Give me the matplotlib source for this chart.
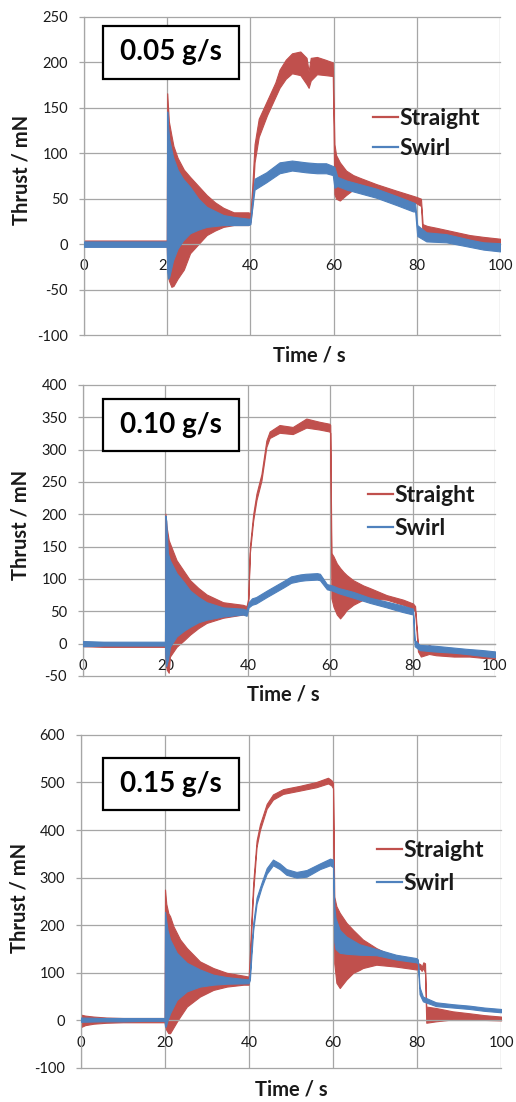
import matplotlib
matplotlib.use("Agg")
import matplotlib.pyplot as plt
from matplotlib.lines import Line2D
from matplotlib.patches import Rectangle

plt.rcParams["font.family"] = ["Lato", "DejaVu Sans"]
plt.rcParams["axes.unicode_minus"] = False

RED = "#C0504D"
BLUE = "#4F81BD"
GRID = "#A6A6A6"
TXT = "#1a1a1a"

# ---- 0.05 g/s : envelope (low / high) of each noisy trace
t_str_05 = [0, 5, 10, 15, 19.9, 20.0, 20.4, 21.0, 21.5, 22.5, 24, 25.5, 27.5, 29.5, 31.5, 33.5, 36, 39.5,
            40.0, 40.4, 41.0, 42, 44, 46, 47, 48.5, 50, 52, 53.5, 54, 54.5, 56, 58, 59.8, 60.2, 60.6, 61.5,
            63, 64.7, 66.3, 70.3, 75, 79.9, 81.0, 81.4, 82.5, 84.7, 88.7, 92.7, 96, 100]
hi_str_05 = [4, 4, 4, 4, 4, 166, 135, 120, 108, 95, 82, 74, 64, 54, 46, 40, 35, 35,
             34, 60, 110, 138, 158, 178, 192, 203, 210, 212, 205, 190, 205, 206, 203, 200, 110, 98, 90,
             81, 76, 73, 66, 59, 52, 50, 22, 20, 18, 14, 10, 8, 6]
lo_str_05 = [-2, -2, -2, -2, -2, -25, -40, -47, -46, -38, -28, -10, 0, 10, 15, 19, 21, 21,
             24, 40, 90, 118, 142, 162, 172, 182, 188, 186, 176, 172, 180, 187, 186, 185, 55, 50, 48,
             54, 60, 63, 58, 51, 45, 42, 10, 8, 6, 3, 0, -1, -2]

t_swl_05 = [0, 5, 10, 15, 19.9, 20.0, 20.2, 20.5, 21.4, 22.5, 23.8, 25.5, 27.5, 29.5, 33.5, 36, 39.5,
            40.0, 40.4, 41.0, 43.8, 47, 50, 53.4, 56, 58.2, 59.8, 60.2, 60.9, 63.1, 66.3, 70.3, 75.1,
            79.1, 79.6, 80.1, 82.3, 87.1, 92.7, 96, 100]
hi_swl_05 = [3, 3, 3, 3, 3, 146, 130, 115, 96, 82, 72, 63, 50, 41, 32, 30, 28,
             28, 45, 72, 79, 90, 92, 90, 89, 89, 86, 85, 74, 70, 66, 61, 53,
             46, 45, 21, 13, 11, 5, 2, 1]
lo_swl_05 = [-3, -3, -3, -3, -3, -30, -38, -36, -18, -5, 4, 12, 16, 19, 21, 21, 21,
             22, 38, 60, 68, 78, 81, 79, 78, 78, 76, 62, 64, 60, 56, 51, 43,
             36, 36, 9, 3, 2, -3, -6, -8]

# ---- 0.10 g/s
t_str_10 = [0, 5, 10, 15, 19.9, 20.0, 20.3, 20.8, 21.1, 22.7, 24.5, 26, 28, 30, 34, 38.8, 39.7, 40.1,
            40.5, 41.3, 42.1, 43.3, 44.5, 45.3, 47.7, 50.9, 54.2, 57.4, 59.8, 60.0, 60.3, 60.8, 61.6,
            62.4, 63.2, 64, 65.6, 68, 69.6, 73.7, 77.7, 80.1, 80.6, 81.3, 82, 84, 85.7, 90, 93.8, 97, 100]
hi_str_10 = [3, 2, 1, 1, 1, 201, 180, 160, 155, 129, 112, 98, 86, 76, 64, 60, 58, 70,
             150, 200, 232, 262, 314, 328, 338, 335, 348, 343, 340, 338, 140, 135, 124,
             117, 111, 106, 98, 90, 86, 75, 68, 62, 58, 0, -10, -2, -8, -12, -12, -14, -16]
lo_str_10 = [-4, -5, -5, -5, -5, -20, -40, -45, -20, -5, 5, 14, 24, 32, 40, 45, 45, 62,
             140, 190, 222, 252, 304, 318, 326, 324, 334, 331, 328, 326, 70, 57, 45,
             39, 45, 52, 60, 68, 70, 68, 60, 54, 50, -12, -20, -16, -18, -20, -20, -22, -23]

t_swl_10 = [0, 5, 10, 15, 19.9, 20.0, 20.2, 20.6, 21.1, 22.7, 24.5, 26, 28, 30, 34, 38.8, 39.7, 40.2,
            41, 42, 44.6, 48.7, 50.5, 52.7, 54, 56.8, 57.5, 59.2, 60.5, 62, 65.6, 69.6, 73.7, 77.5,
            80.1, 80.5, 81.7, 85, 89.8, 93, 97, 100]
hi_swl_10 = [4, 3, 3, 3, 3, 198, 190, 140, 129, 109, 95, 82, 72, 64, 56, 54, 52, 64,
             70, 72, 82, 97, 104, 107, 108, 109, 108, 92, 90, 86, 80, 71, 65, 59,
             54, 6, -2, -3, -6, -8, -10, -12]
lo_swl_10 = [-4, -3, -3, -3, -3, -20, -35, -25, -5, 11, 20, 26, 33, 37, 42, 45, 43, 56,
             60, 62, 72, 87, 94, 97, 98, 99, 98, 84, 82, 78, 71, 63, 56, 49,
             45, -4, -10, -12, -14, -16, -19, -21]

# ---- 0.15 g/s
t_str_15 = [0, 1, 3, 6, 10, 15, 19.9, 20.0, 20.3, 20.8, 21.2, 22, 22.8, 23.6, 25.2, 28.3, 31.5, 34.7,
            38.7, 39.9, 40.2, 40.6, 41, 41.8, 42.6, 44.2, 45.7, 48.1, 52.1, 56, 58.8, 59.6, 60.0, 60.3,
            60.8, 61.6, 63.2, 64.8, 66.3, 67.1, 70.3, 75, 79.8, 80.8, 81.1, 81.5, 81.9, 82.2, 84.5,
            88.5, 92.4, 96, 100]
hi_str_15 = [12, 10, 8, 6, 5, 5, 5, 275, 245, 225, 219, 198, 184, 170, 152, 124, 110, 100,
             94, 92, 140, 220, 290, 378, 412, 455, 475, 486, 493, 501, 510, 505, 500, 260,
             240, 226, 205, 190, 177, 170, 152, 132, 122, 118, 112, 122, 120, 29, 26,
             19, 15, 11, 8]
lo_str_15 = [-14, -10, -7, -5, -4, -4, -4, -10, -20, -27, -27, -15, -3, 8, 29, 50, 64, 71,
             75, 75, 100, 200, 270, 365, 400, 445, 464, 476, 483, 490, 498, 494, 488, 120,
             79, 68, 86, 100, 106, 110, 117, 113, 107, 108, 104, 110, 100, -5, -2,
             2, 2, 1, 0]

t_swl_15 = [0, 5, 10, 15, 19.9, 20.0, 20.2, 20.6, 21.2, 22.8, 25.2, 28.3, 31.5, 34.7, 39.9, 40.2,
            40.6, 41, 41.8, 43, 44.2, 45.7, 47.3, 48.9, 51.3, 53.7, 56.9, 59.3, 60.0, 60.3, 60.6,
            61.6, 63.2, 66.3, 70.3, 75, 79.8, 80.2, 80.6, 81.4, 84.5, 88.5, 92.4, 96, 100]
hi_swl_15 = [6, 5, 5, 5, 5, 228, 215, 190, 170, 142, 121, 107, 96, 91, 86, 100,
             160, 205, 258, 290, 320, 338, 330, 318, 312, 316, 330, 340, 338, 240, 215,
             190, 176, 160, 150, 138, 131, 128, 70, 50, 38, 34, 31, 27, 24]
lo_swl_15 = [-3, -2, -2, -1, -1, -13, -13, 0, 15, 43, 61, 71, 75, 77, 78, 85,
             140, 190, 245, 280, 308, 326, 318, 306, 300, 302, 318, 326, 322, 165, 150,
             142, 140, 138, 137, 128, 122, 120, 55, 40, 30, 27, 24, 20, 17]

titles = ["0.05 g/s", "0.10 g/s", "0.15 g/s"]
y_ticks = [list(range(-100, 251, 50)), list(range(-50, 401, 50)), list(range(-100, 601, 100))]
x_ticks = [0, 20, 40, 60, 80, 100]

# layout (figure fractions / axes fractions) per panel
ax_rects = [(0.1628, 0.6960, 0.8062, 0.2886),
            (0.1609, 0.3866, 0.7984, 0.2641),
            (0.1570, 0.0309, 0.8140, 0.3022)]
box_rects = [(0.0457, 0.805, 0.327, 0.167),
             (0.0485, 0.773, 0.330, 0.179),
             (0.0524, 0.775, 0.324, 0.156)]
legend_anchor = [(0.695, 0.634), (0.692, 0.564), (0.705, 0.604)]
legend_spacing = [0.38, 0.52, 0.52]
xlabel_pos = [(0.541, -0.063), (0.485, -0.065), (0.50, -0.066)]
ylabel_pos = [(-0.150, 0.519), (-0.152, 0.519), (-0.146, 0.51)]

series = [
    [(t_str_05, lo_str_05, hi_str_05), (t_swl_05, lo_swl_05, hi_swl_05)],
    [(t_str_10, lo_str_10, hi_str_10), (t_swl_10, lo_swl_10, hi_swl_10)],
    [(t_str_15, lo_str_15, hi_str_15), (t_swl_15, lo_swl_15, hi_swl_15)],
]

fig = plt.figure(figsize=(5.16, 11.02), dpi=100)

for i in range(3):
    ax = fig.add_axes(ax_rects[i])
    (ts, ls, hs), (tb, lb, hb) = series[i]
    ax.fill_between(ts, ls, hs, color=RED, edgecolor=RED, lw=0.8, zorder=2)
    ax.fill_between(tb, lb, hb, color=BLUE, edgecolor=BLUE, lw=0.8, zorder=3)

    ax.set_xlim(0, 100)
    ax.set_ylim(y_ticks[i][0], y_ticks[i][-1])
    ax.set_xticks(x_ticks)
    ax.set_yticks(y_ticks[i])
    ax.grid(True, color=GRID, lw=0.9)
    ax.set_axisbelow(True)
    for gl in ax.get_xgridlines() + ax.get_ygridlines():
        gl.set_clip_on(False)

    for s in ["top", "right"]:
        ax.spines[s].set_visible(False)
    ax.spines["left"].set_color(GRID)
    ax.spines["left"].set_linewidth(0.9)
    ax.spines["bottom"].set_position(("data", 0))
    ax.spines["bottom"].set_color(GRID)
    ax.spines["bottom"].set_linewidth(0.9)

    ax.tick_params(axis="y", direction="out", length=3.6, width=0.9, color=GRID,
                   pad=8, labelsize=10.5, labelcolor=TXT)
    ax.tick_params(axis="x", length=0, pad=11, labelsize=10.5, labelcolor=TXT)

    ax.set_xlabel("Time / s", fontsize=14.5, fontweight="bold", color=TXT, va="center")
    ax.xaxis.set_label_coords(*xlabel_pos[i])
    ax.set_ylabel("Thrust / mN", fontsize=14.5, fontweight="bold", color=TXT, va="center")
    ax.yaxis.set_label_coords(*ylabel_pos[i])

    bx, by, bw, bh = box_rects[i]
    ax.add_patch(Rectangle((bx, by), bw, bh, transform=ax.transAxes, facecolor="white",
                           edgecolor="black", lw=1.6, zorder=6, clip_on=False))
    ax.text(bx + bw / 2, by + bh / 2, titles[i], transform=ax.transAxes, ha="center",
            va="center", fontsize=20, fontweight="bold", color="black", zorder=7)

    handles = [Line2D([], [], color=RED, lw=1.6), Line2D([], [], color=BLUE, lw=1.6)]
    leg = ax.legend(handles, ["Straight", "Swirl"], loc="center left",
                    bbox_to_anchor=legend_anchor[i], frameon=False, borderpad=0,
                    borderaxespad=0, handlelength=1.1, handletextpad=0.05,
                    labelspacing=legend_spacing[i],
                    prop={"size": 16.5, "weight": "bold"})
    for txt in leg.get_texts():
        txt.set_color(TXT)

fig.savefig("out.png", dpi=100)
